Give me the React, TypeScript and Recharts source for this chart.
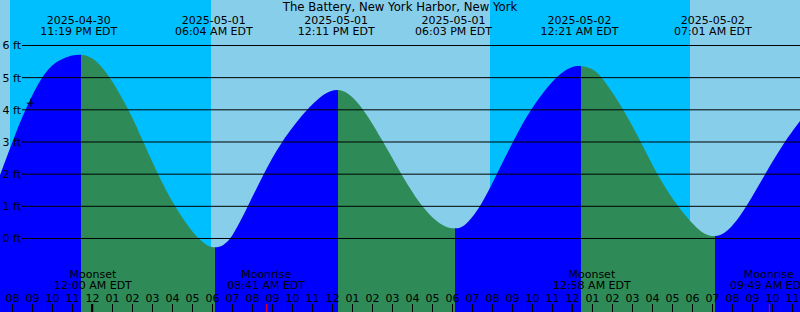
import React from 'react';
import {
  ComposedChart,
  Area,
  XAxis,
  YAxis,
  ReferenceArea,
  ReferenceLine,
  ReferenceDot,
} from 'recharts';

const W = 800;
const H = 312;
const FONT = 'DejaVu Sans';
const FS = 11;

// Hours since 2025-05-01 00:00 EDT, and predicted water level (ft)
const tideHours = [
  -4.625, -4.01, -3.375, -2.575, -1.96, -1.29, -0.925, -0.575, -0.225,
  0.21, 0.91, 1.825, 2.54, 3.26, 4.1, 4.875, 5.3, 5.71, 5.925, 6.125, 6.325,
  6.54, 6.96, 7.775, 8.54, 9.425, 10.675, 11.54, 11.9, 12.26, 12.61,
  12.96, 13.59, 14.54, 15.375, 15.875, 16.46, 17.21, 17.675, 18.125, 18.425,
  18.71, 19.425, 20.21, 21.01, 21.875, 23.09, 23.875, 24.15, 24.425, 24.875,
  25.375, 26.575, 27.425, 28.21, 29.24, 30.21, 30.675, 31.125, 31.575,
  32.04, 32.71, 33.625, 34.59, 35.375,
];
const tideFeet = [
  1.97, 3.0, 4.0, 5.0, 5.45, 5.65, 5.7, 5.72, 5.67,
  5.53, 5.0, 4.0, 3.0, 2.0, 1.0, 0.3, 0.0, -0.21, -0.26, -0.28, -0.26,
  -0.21, 0.0, 1.0, 2.0, 3.0, 4.0, 4.48, 4.59, 4.63, 4.58,
  4.43, 4.0, 3.0, 2.07, 1.55, 1.0, 0.51, 0.35, 0.3, 0.34,
  0.45, 1.0, 2.0, 3.0, 4.0, 5.0, 5.32, 5.36, 5.37, 5.31,
  5.13, 4.0, 3.0, 2.0, 1.0, 0.31, 0.11, 0.05, 0.14,
  0.41, 1.0, 2.0, 3.0, 3.65,
];

// High / low tide labels
const extremeHours = [-0.683, 6.067, 12.183, 18.05, 24.35, 31.017, 37.283];
const extremeDates = ['2025-04-30', '2025-05-01', '2025-05-01', '2025-05-01', '2025-05-02', '2025-05-02', '2025-05-02'];
const extremeTimes = ['11:19 PM EDT', '06:04 AM EDT', '12:11 PM EDT', '06:03 PM EDT', '12:21 AM EDT', '07:01 AM EDT', '01:17 PM EDT'];

// Moon events
const moonHours = [0.02, 8.683, 24.967, 33.817];
const moonNames = ['Moonset', 'Moonrise', 'Moonset', 'Moonrise'];
const moonTimes = ['12:00 AM EDT', '08:41 AM EDT', '12:58 AM EDT', '09:49 AM EDT'];

// Sunset / sunrise (hours) -> day / night bands
const sunsetHours = [-4.125, 19.875];
const sunriseHours = [5.925, 29.875];

// Now marker
const nowHour = -3.11;
const nowFeet = 4.22;

const gridFeet = [0, 1, 2, 3, 4, 5, 6];
const Y_MIN = -2.285;
const Y_MAX = 7.414;

const X_MIN = tideHours[0];
const X_MAX = tideHours[tideHours.length - 1];

const hourTicks = Array.from({ length: Math.floor(X_MAX) - Math.ceil(X_MIN) + 1 }, (_, i) => Math.ceil(X_MIN) + i);

const TITLE = 'The Battery, New York Harbor, New York';

const DAY = '#87CEEB';
const NIGHT = '#00BFFF';
const RISING = '#0000FF';
const FALLING = '#2E8B57';

const data = tideHours.map((h, i) => ({ h, ft: tideFeet[i] }));

// turning points of the curve -> colour changes
const turns: number[] = [];
for (let i = 1; i < tideFeet.length - 1; i++) {
  if ((tideFeet[i] - tideFeet[i - 1]) * (tideFeet[i + 1] - tideFeet[i]) < 0) turns.push(tideHours[i]);
}
const bounds = [X_MIN, ...turns, X_MAX];
let rising = tideFeet[1] > tideFeet[0];
const stops: { off: number; color: string }[] = [];
for (let i = 0; i < bounds.length - 1; i++) {
  const c = rising ? RISING : FALLING;
  stops.push({ off: (bounds[i] - X_MIN) / (X_MAX - X_MIN), color: c });
  stops.push({ off: (bounds[i + 1] - X_MIN) / (X_MAX - X_MIN), color: c });
  rising = !rising;
}

const bands: { x1: number; x2: number; fill: string }[] = [
  { x1: X_MIN, x2: sunsetHours[0], fill: DAY },
  { x1: sunsetHours[0], x2: sunriseHours[0], fill: NIGHT },
  { x1: sunriseHours[0], x2: sunsetHours[1], fill: DAY },
  { x1: sunsetHours[1], x2: sunriseHours[1], fill: NIGHT },
  { x1: sunriseHours[1], x2: X_MAX, fill: DAY },
];

const hourLabel = (h: number) => {
  const hod = ((Math.round(h) % 24) + 24) % 24;
  const h12 = hod % 12 === 0 ? 12 : hod % 12;
  return String(h12).padStart(2, '0');
};

const HourTick = (props: any) => {
  const { x, payload } = props;
  const h = payload.value;
  const midnight = ((Math.round(h) % 24) + 24) % 24 === 0;
  return (
    <g>
      <text x={x} y={301.5} textAnchor="middle" fontFamily={FONT} fontSize={FS} fill="#000">
        {hourLabel(h)}
      </text>
      <line x1={midnight ? x - 0.5 : x} x2={midnight ? x - 0.5 : x} y1={304} y2={312} stroke="#000" strokeWidth={midnight ? 2 : 1} />
    </g>
  );
};

export default function App() {
  return (
    <div style={{ position: 'absolute', left: 0, top: 0, width: W, height: H }}>
      <ComposedChart width={W} height={H} data={data} margin={{ top: 0, right: 0, bottom: 0, left: 0 }}>
        <defs>
          <linearGradient id="tideFill" x1="0" y1="0" x2="1" y2="0">
            {stops.map((s, i) => (
              <stop key={i} offset={s.off} stopColor={s.color} />
            ))}
          </linearGradient>
        </defs>
        <XAxis
          dataKey="h"
          type="number"
          domain={[X_MIN, X_MAX]}
          allowDataOverflow
          ticks={hourTicks}
          interval={0}
          mirror
          axisLine={false}
          tickLine={false}
          tick={<HourTick />}
        />
        <YAxis type="number" domain={[Y_MIN, Y_MAX]} allowDataOverflow hide />
        {bands.map((b, i) => (
          <ReferenceArea key={'b' + i} x1={b.x1} x2={b.x2} y1={Y_MIN} y2={Y_MAX} fill={b.fill} fillOpacity={1} stroke="none" ifOverflow="hidden" zIndex={-200} />
        ))}
        <Area
          type="basis"
          dataKey="ft"
          stroke="none"
          fill="url(#tideFill)"
          fillOpacity={1}
          baseValue={Y_MIN}
          isAnimationActive={false}
          dot={false}
          activeDot={false}
        />
        {gridFeet.map((f) => (
          <ReferenceLine
            key={'g' + f}
            y={f}
            stroke="#000"
            shape={(p: any) => (
              <g>
                <line x1={22} x2={p.x2} y1={p.y1} y2={p.y1} stroke="#000" strokeWidth={1} />
                <text x={2.5} y={p.y1 + 4} fontFamily={FONT} fontSize={FS} fill="#000">
                  {f} ft
                </text>
              </g>
            )}
          />
        ))}
        {extremeHours.map((h, i) => (
          <ReferenceLine
            key={'e' + i}
            x={h}
            ifOverflow="visible"
            shape={(p: any) => (
              <g>
                <text x={p.x1} y={23.5} textAnchor="middle" fontFamily={FONT} fontSize={FS} fill="#000">
                  {extremeDates[i]}
                </text>
                <text x={p.x1} y={35.2} textAnchor="middle" fontFamily={FONT} fontSize={FS} fill="#000">
                  {extremeTimes[i]}
                </text>
              </g>
            )}
          />
        ))}
        {moonHours.map((h, i) => (
          <ReferenceLine
            key={'m' + i}
            x={h}
            ifOverflow="visible"
            shape={(p: any) => (
              <g>
                <line x1={p.x1 + 0.5} x2={p.x1 + 0.5} y1={304} y2={312} stroke="#FF0000" strokeWidth={1} />
                <text x={p.x1} y={277.5} textAnchor="middle" fontFamily={FONT} fontSize={FS} fill="#000">
                  {moonNames[i]}
                </text>
                <text x={p.x1} y={289.2} textAnchor="middle" fontFamily={FONT} fontSize={FS} fill="#000">
                  {moonTimes[i]}
                </text>
              </g>
            )}
          />
        ))}
        <ReferenceDot
          x={nowHour}
          y={nowFeet}
          ifOverflow="visible"
          shape={(p: any) => (
            <g stroke="#000" strokeWidth={1}>
              <line x1={p.cx - 3.5} x2={p.cx + 3.5} y1={p.cy + 0.5} y2={p.cy + 0.5} />
              <line x1={p.cx + 0.5} x2={p.cx + 0.5} y1={p.cy - 4} y2={p.cy + 4} />
            </g>
          )}
        />
      </ComposedChart>
      <svg width={W} height={H} style={{ position: 'absolute', left: 0, top: 0, pointerEvents: 'none' }}>
        <text x={400} y={11} textAnchor="middle" fontFamily={FONT} fontSize={11.7} fill="#000">
          {TITLE}
        </text>
      </svg>
    </div>
  );
}
